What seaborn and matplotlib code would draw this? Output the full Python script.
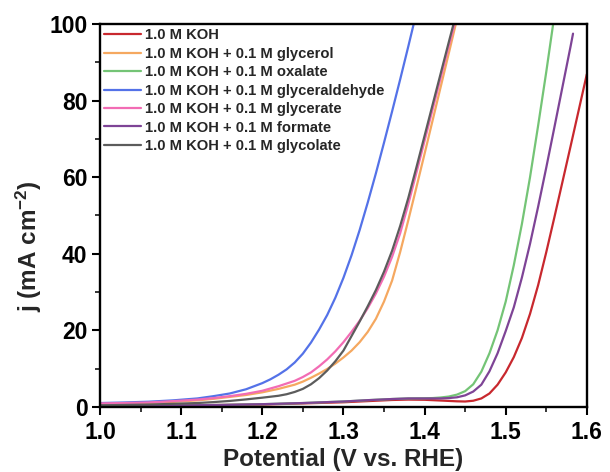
import matplotlib
matplotlib.use("Agg")
import matplotlib.pyplot as plt
import seaborn as sns
import pandas as pd
from matplotlib.ticker import MultipleLocator, FormatStrFormatter

# ---- data ----
labels = ["1.0 M KOH",
          "1.0 M KOH + 0.1 M glycerol",
          "1.0 M KOH + 0.1 M oxalate",
          "1.0 M KOH + 0.1 M glyceraldehyde",
          "1.0 M KOH + 0.1 M glycerate",
          "1.0 M KOH + 0.1 M formate",
          "1.0 M KOH + 0.1 M glycolate"]
colors = ["#C8282E", "#F5A860", "#74C476", "#5472E8", "#F26CB4", "#7E4496", "#5C5C5C"]

koh_v = [1.00, 1.05, 1.10, 1.15, 1.20, 1.25, 1.30, 1.33, 1.36, 1.38, 1.40, 1.42, 1.44, 1.45, 1.46, 1.47, 1.48,
         1.49, 1.50, 1.51, 1.52, 1.53, 1.54, 1.55, 1.56, 1.57, 1.58, 1.59, 1.60]
koh_j = [0.3, 0.35, 0.4, 0.5, 0.6, 0.9, 1.2, 1.5, 1.8, 1.9, 1.85, 1.65, 1.45, 1.4, 1.6, 2.2, 3.5,
         5.8, 9.0, 13.0, 18.0, 24.3, 31.8, 40.4, 49.5, 58.8, 68.1, 77.5, 86.9]

glycerol_v = [1.00, 1.03, 1.06, 1.09, 1.12, 1.14, 1.16, 1.18, 1.20, 1.22, 1.24, 1.25, 1.26, 1.27, 1.28, 1.29,
              1.30, 1.31, 1.32, 1.33, 1.34, 1.35, 1.36, 1.37, 1.38, 1.39, 1.40, 1.41, 1.42, 1.43, 1.4385]
glycerol_j = [0.8, 0.9, 1.0, 1.3, 1.7, 2.1, 2.6, 3.1, 3.8, 4.7, 5.8, 6.6, 7.6, 8.7, 9.9, 11.3,
              12.9, 14.7, 16.9, 19.6, 23.0, 27.5, 33.0, 40.5, 48.8, 57.4, 66.1, 74.9, 83.7, 92.5, 100.0]

oxalate_v = [1.00, 1.05, 1.10, 1.15, 1.20, 1.25, 1.30, 1.33, 1.36, 1.38, 1.40, 1.41, 1.42, 1.43, 1.44, 1.45,
             1.46, 1.47, 1.48, 1.49, 1.50, 1.51, 1.52, 1.53, 1.54, 1.55, 1.5585]
oxalate_j = [0.3, 0.35, 0.4, 0.5, 0.7, 1.0, 1.4, 1.75, 2.05, 2.2, 2.25, 2.3, 2.45, 2.7, 3.2, 4.1,
             5.9, 9.2, 14.0, 20.0, 27.5, 37.0, 47.8, 60.0, 73.5, 87.5, 100.0]

glyceraldehyde_v = [1.00, 1.03, 1.06, 1.09, 1.12, 1.14, 1.16, 1.18, 1.20, 1.21, 1.22, 1.23, 1.24, 1.25, 1.26,
                    1.27, 1.28, 1.29, 1.30, 1.31, 1.32, 1.33, 1.34, 1.35, 1.36, 1.37, 1.38, 1.3866]
glyceraldehyde_j = [1.0, 1.15, 1.35, 1.7, 2.2, 2.8, 3.5, 4.6, 6.2, 7.2, 8.4, 9.8, 11.6, 13.9, 16.8,
                    20.2, 24.0, 28.5, 33.7, 39.6, 46.2, 53.4, 61.0, 69.0, 77.2, 85.6, 94.2, 100.0]

glycerate_v = [1.00, 1.03, 1.06, 1.09, 1.12, 1.14, 1.16, 1.18, 1.20, 1.22, 1.24, 1.25, 1.26, 1.27, 1.28, 1.29,
               1.30, 1.31, 1.32, 1.33, 1.34, 1.35, 1.36, 1.37, 1.38, 1.39, 1.40, 1.41, 1.42, 1.43, 1.437]
glycerate_j = [0.9, 1.0, 1.15, 1.5, 1.9, 2.3, 2.8, 3.4, 4.2, 5.4, 6.8, 7.8, 9.0, 10.6, 12.4, 14.5,
               16.9, 19.6, 22.5, 25.8, 29.6, 34.0, 39.2, 45.4, 53.0, 61.2, 69.5, 77.8, 86.1, 94.4, 100.0]

formate_v = [1.00, 1.05, 1.10, 1.15, 1.20, 1.25, 1.30, 1.33, 1.36, 1.38, 1.40, 1.42, 1.43, 1.44, 1.45, 1.46,
             1.47, 1.48, 1.49, 1.50, 1.51, 1.52, 1.53, 1.54, 1.55, 1.56, 1.57, 1.58, 1.583]
formate_j = [0.3, 0.35, 0.4, 0.5, 0.7, 1.0, 1.4, 1.75, 2.05, 2.2, 2.2, 2.2, 2.3, 2.5, 3.0, 4.0,
             5.8, 9.3, 14.0, 19.8, 26.0, 33.8, 42.6, 52.3, 62.5, 73.0, 83.6, 94.2, 97.5]

glycolate_v = [1.00, 1.03, 1.06, 1.09, 1.12, 1.14, 1.16, 1.18, 1.20, 1.22, 1.23, 1.24, 1.25, 1.26, 1.27, 1.28,
               1.29, 1.30, 1.31, 1.32, 1.33, 1.34, 1.35, 1.36, 1.37, 1.38, 1.39, 1.40, 1.41, 1.42, 1.43, 1.4357]
glycolate_j = [0.4, 0.5, 0.6, 0.8, 1.0, 1.25, 1.55, 1.95, 2.4, 2.9, 3.3, 3.9, 4.7, 5.9, 7.5, 9.5,
               11.9, 14.7, 18.5, 22.3, 26.3, 30.5, 35.3, 40.8, 47.3, 54.6, 62.6, 70.8, 79.0, 87.2, 95.4, 100.0]

series_v = [koh_v, glycerol_v, oxalate_v, glyceraldehyde_v, glycerate_v, formate_v, glycolate_v]
series_j = [koh_j, glycerol_j, oxalate_j, glyceraldehyde_j, glycerate_j, formate_j, glycolate_j]

frames = []
for lab, v, j in zip(labels, series_v, series_j):
    frames.append(pd.DataFrame({"V": v, "j": j, "sample": lab}))
df = pd.concat(frames, ignore_index=True)

# ---- style ----
sns.set_theme(style="ticks")
plt.rcParams["font.family"] = ["Liberation Sans", "DejaVu Sans"]
plt.rcParams["font.weight"] = "bold"
plt.rcParams["mathtext.fontset"] = "custom"
plt.rcParams["mathtext.rm"] = "Liberation Sans:bold"
plt.rcParams["mathtext.default"] = "regular"

fig = plt.figure(figsize=(6.10, 4.72), dpi=100)
ax = fig.add_axes([0.164, 0.138, 0.798, 0.811])

sns.lineplot(data=df, x="V", y="j", hue="sample", hue_order=labels,
             palette=colors, sort=False, estimator=None, linewidth=1.6, ax=ax)

ax.set_xlim(1.0, 1.6)
ax.set_ylim(0, 100)
ax.xaxis.set_major_locator(MultipleLocator(0.1))
ax.xaxis.set_minor_locator(MultipleLocator(0.05))
ax.yaxis.set_major_locator(MultipleLocator(20))
ax.yaxis.set_minor_locator(MultipleLocator(10))
ax.xaxis.set_major_formatter(FormatStrFormatter("%.1f"))

for s in ax.spines.values():
    s.set_linewidth(1.7)
    s.set_color("black")
ax.tick_params(which="major", direction="out", length=6, width=1.5, labelsize=16.5,
               colors="black", pad=3, top=False, right=False)
ax.tick_params(axis="x", which="major", pad=4)
ax.tick_params(which="minor", direction="out", length=3.5, width=1.3,
               top=False, right=False)
for t in ax.get_xticklabels() + ax.get_yticklabels():
    t.set_fontweight("bold")

ax.set_xlabel("Potential (V vs. RHE)", fontsize=17.5, fontweight="bold", labelpad=3)
ax.set_ylabel("j (mA cm$^{-2}$)", fontsize=17.5, fontweight="bold")
ax.yaxis.set_label_coords(-0.115, 0.42)

leg = ax.legend(loc="upper left", frameon=False, fontsize=10.6, handlelength=2.5,
                labelspacing=0.3, handletextpad=0.25, borderaxespad=0.1,
                borderpad=0.2)
for t in leg.get_texts():
    t.set_fontweight("bold")
for h in leg.get_lines():
    h.set_linewidth(1.6)

fig.savefig("out.png", dpi=100)
